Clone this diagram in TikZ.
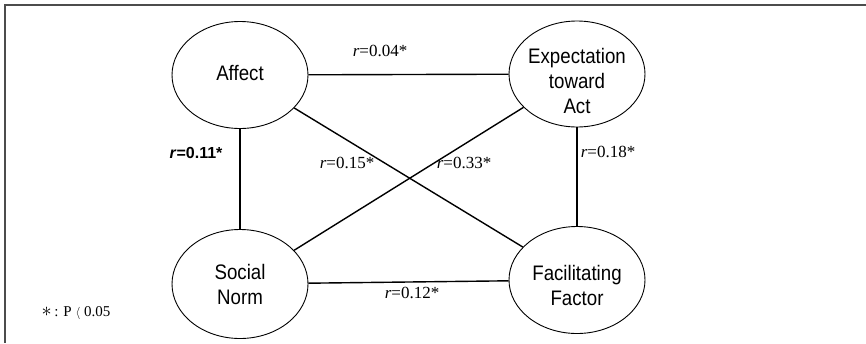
\documentclass[tikz,border=0pt]{standalone}
\usepackage{fontspec}
\usepackage{graphicx}
\setmainfont{Liberation Serif}
\setsansfont{Liberation Sans}
\usetikzlibrary{shapes.geometric}
\newcommand\narrowtxt[1]{\scalebox{0.89}[1]{#1}}
\tikzset{
  factor/.style={draw, ellipse, line width=0.9pt, minimum width=136pt, minimum height=107pt,
    inner sep=0pt},
  ftext/.style={align=center, inner sep=0pt, font=\sffamily\fontsize{21}{25}\selectfont},
  link/.style={line width=1.4pt},
  rlab/.style={font=\fontsize{17}{19}\selectfont, inner sep=0pt},
  frameline/.style={line width=1.2pt, draw=black!70}
}
\begin{document}
\begin{tikzpicture}[x=1pt,y=-1pt]
\useasboundingbox (0,0) rectangle (866,343);
\coordinate (tl) at (5,5);
\coordinate (tr) at (866,5);
\coordinate (bl) at (5,343);
\draw[frameline] (tr) -- (tl) -- (bl);

\node[factor] (aff) at (240,75) {};
\node[factor, minimum height=106pt] (exp) at (577,74) {};
\node[factor, minimum height=109pt] (soc) at (240,284) {};
\node[factor] (fac) at (577,280) {};

\node[ftext] (affT) at (240,73) {\narrowtxt{Affect}};
\node[ftext] (expT) at (577,81) {\narrowtxt{Expectation}\\\narrowtxt{toward}\\\narrowtxt{Act}};
\node[ftext] (socT) at (240,284) {\narrowtxt{Social}\\\narrowtxt{Norm}};
\node[ftext] (facT) at (577,285) {\narrowtxt{Facilitating}\\\narrowtxt{Factor}};

\draw[link] (aff) -- (exp);
\draw[link] (aff) -- (soc);
\draw[link] (exp) -- (fac);
\draw[link] (soc) -- (fac);
\draw[link] (aff) -- (fac);
\draw[link] (soc) -- (exp);

\node[rlab] (l04) at (380,51) {\textit{r}=0.04*};
\node[rlab, font=\sffamily\bfseries\fontsize{16}{18}\selectfont] (l11) at (196,153) {\textit{r}=0.11*};
\node[rlab] (l15) at (347,163) {\textit{r}=0.15*};
\node[rlab] (l33) at (464,163) {\textit{r}=0.33*};
\node[rlab] (l18) at (608,152) {\textit{r}=0.18*};
\node[rlab] (l12) at (412,293) {\textit{r}=0.12*};
\node[font=\fontsize{15}{17}\selectfont, inner sep=0pt] (legend) at (76,313)
  {\scalebox{1.4}{$\ast$}\,: P \raisebox{0.5pt}{\scalebox{0.85}{$\langle$}} 0.05};
\end{tikzpicture}
\end{document}
